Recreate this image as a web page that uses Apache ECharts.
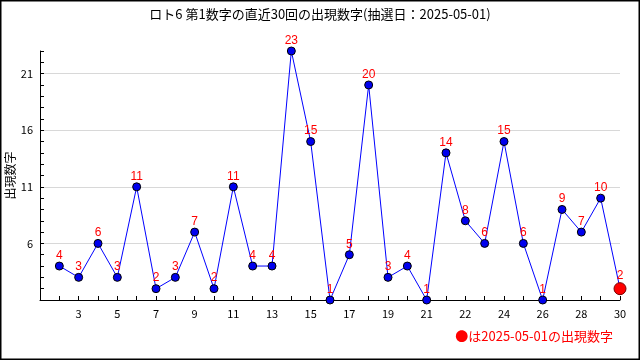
<!DOCTYPE html>
<html>
<head>
<meta charset="utf-8">
<script src="https://cdn.jsdelivr.net/npm/echarts@6/dist/echarts.min.js"></script>
<style>html,body{margin:0;padding:0;background:#fff}#c{width:640px;height:360px}</style>
</head>
<body>
<div id="c"></div>
<script>
// 直近30回の第1数字
const values = [4,3,6,3,11,2,3,7,2,11,4,4,23,15,1,5,20,3,4,1,14,8,6,15,6,1,9,7,10,2];
const xTickPositions = [2,4,6,8,10,12,14,16,18,20,22,24,26,28,30];
const xTickLabels = ["3","5","7","9","11","13","15","17","19","21","22","24","26","28","30"];
const yTickLabels = [6,11,16,21];
const titleText = "ロト6 第1数字の直近30回の出現数字(抽選日：2025-05-01)";
const legendText = "●は2025-05-01の出現数字";
const yName = "出現数字";

const lastIdx = values.length - 1;
const seriesData = values.map((v, i) => {
  const item = { value: [i + 1, v] };
  if (i === lastIdx) {
    item.symbolSize = 12;
    item.itemStyle = { color: '#ff0000', borderColor: '#7a0000', borderWidth: 1 };
  }
  return item;
});

const chart = echarts.init(document.getElementById('c'), null, { renderer: 'canvas' });
const gridColors = ['#d8d8d8', 'rgba(0,0,0,0)', 'rgba(0,0,0,0)', 'rgba(0,0,0,0)', 'rgba(0,0,0,0)'];
chart.setOption({
  animation: false,
  backgroundColor: '#fff',
  title: [
    { text: titleText, left: 'center', top: 3,
      textStyle: { fontFamily: 'Noto Sans CJK JP', fontSize: 13, fontWeight: 'normal', color: '#000' } },
    { text: legendText, right: 22, top: 325,
      textStyle: { fontFamily: 'Noto Sans CJK JP', fontSize: 13, fontWeight: 'normal', color: '#ff0000' } }
  ],
  grid: { left: 40, right: 20, top: 51, bottom: 60, containLabel: false, outerBoundsMode: 'none' },
  xAxis: {
    type: 'value', min: 0, max: 30, interval: 1,
    axisLine: { show: true, lineStyle: { color: '#000', width: 1 } },
    axisTick: { show: true, inside: true, length: 4, lineStyle: { color: '#000' } },
    splitLine: { show: false },
    axisLabel: {
      margin: 8, color: '#000', fontFamily: 'Noto Sans CJK JP', fontSize: 11,
      showMinLabel: true, showMaxLabel: true,
      formatter: v => { const k = xTickPositions.indexOf(v); return k >= 0 ? xTickLabels[k] : ''; }
    }
  },
  yAxis: {
    type: 'value', min: 1, max: 23, interval: 1,
    name: yName, nameLocation: 'middle', nameGap: 24, nameRotate: 90, nameMoveOverlap: false,
    nameTextStyle: { fontFamily: 'Noto Sans CJK JP', fontSize: 12, color: '#000' },
    axisLine: { show: true, lineStyle: { color: '#000', width: 1 } },
    axisTick: { show: true, inside: true, length: 4, lineStyle: { color: '#000' } },
    splitLine: { show: true, lineStyle: { color: gridColors, width: 1 } },
    axisLabel: {
      margin: 7, color: '#000', fontFamily: 'Noto Sans CJK JP', fontSize: 11,
      formatter: v => yTickLabels.indexOf(v) >= 0 ? String(v) : ''
    }
  },
  series: [{
    type: 'line',
    data: seriesData,
    symbol: 'circle',
    symbolSize: 8,
    itemStyle: { color: '#0000ee', borderColor: '#000', borderWidth: 1 },
    lineStyle: { color: '#0000ff', width: 1 },
    label: { show: true, position: 'top', distance: 0, color: '#ff0000',
      fontFamily: 'Liberation Sans', fontSize: 12, formatter: p => p.value[1] },
    z: 3
  }],
  graphic: [{
    type: 'rect', shape: { x: 0, y: 0, width: 640, height: 360 },
    style: { fill: 'none', stroke: '#000', lineWidth: 3 }, silent: true, z: 100
  }]
});
</script>
</body>
</html>
